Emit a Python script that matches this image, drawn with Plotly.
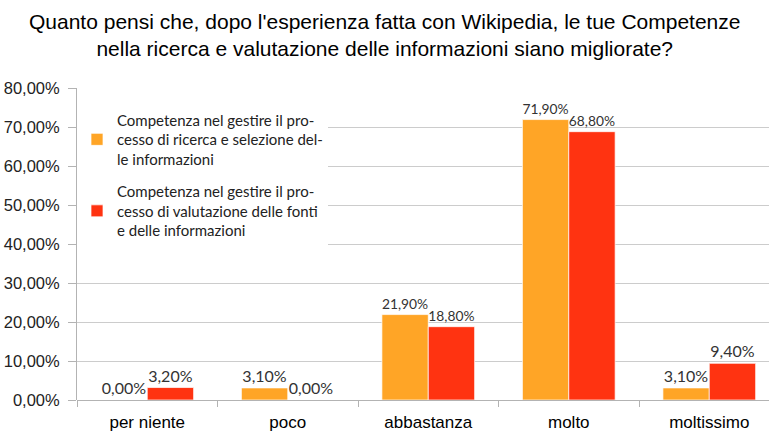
import plotly.graph_objects as go

categories = ["per niente", "poco", "abbastanza", "molto", "moltissimo"]
series1_name = "Competenza nel gestire il pro-<br>cesso di ricerca e selezione del-<br>le informazioni"
series2_name = "Competenza nel gestire il pro-<br>cesso di valutazione delle fonti<br>e delle informazioni"
series1 = [0.0, 3.1, 21.9, 71.9, 3.1]
series2 = [3.2, 0.0, 18.8, 68.8, 9.4]
title_text = ("Quanto pensi che, dopo l'esperienza fatta con Wikipedia, le tue Competenze<br>"
              "nella ricerca e valutazione delle informazioni siano migliorate?")

label_font = dict(family="Lato, Carlito, sans-serif", size=16, color="#333333")

fig = go.Figure()
fig.add_trace(go.Bar(
    x=categories, y=series1, name=series1_name, legendgroup="a",
    marker=dict(color="#FFA526", line=dict(color="rgba(255,255,255,0.7)", width=1)),
    text=[f"{v:.2f}%".replace(".", ",") for v in series1],
    textposition="outside", textfont=label_font, cliponaxis=False,
))
fig.add_trace(go.Bar(
    x=categories, y=series2, name=series2_name, legendgroup="b",
    marker=dict(color="#FF3311", line=dict(color="rgba(255,255,255,0.7)", width=1)),
    text=[f"{v:.2f}%".replace(".", ",") for v in series2],
    textposition="outside", textfont=label_font, cliponaxis=False,
))

fig.add_annotation(
    text=title_text, xref="paper", yref="paper", x=0.445, y=1.256,
    xanchor="center", yanchor="top", showarrow=False, align="center",
    font=dict(family="Liberation Sans, Arial, sans-serif", size=21, color="#000000"),
)

fig.update_layout(
    width=769, height=432,
    margin=dict(l=77, r=0, t=88, b=32, autoexpand=False),
    paper_bgcolor="white", plot_bgcolor="white",
    separators=",.",
    barmode="group", bargap=0.34, bargroupgap=0.0,
    legend=dict(
        x=0.0, y=0.95, xanchor="left", yanchor="top",
        bgcolor="white", borderwidth=0,
        font=dict(family="Lato, Carlito, sans-serif", size=15, color="#222222"),
        traceorder="grouped", tracegroupgap=10,
        itemwidth=30,
    ),
    xaxis=dict(
        range=[-0.5, 4.425],
        tickson="boundaries", ticks="outside", ticklen=6, tickcolor="#b3b3b3",
        showline=False, showgrid=False, ticklabelstandoff=10,
        tickfont=dict(family="Liberation Sans, Arial, sans-serif", size=17, color="#000000"),
    ),
    yaxis=dict(
        range=[0, 80], dtick=10, tickformat=".2f", ticksuffix="%",
        ticks="outside", ticklen=8, tickcolor="#b3b3b3", ticklabelstandoff=5,
        showline=True, linecolor="#b3b3b3", linewidth=1,
        showgrid=True, gridcolor="#cccccc", gridwidth=1,
        zeroline=True, zerolinecolor="#b3b3b3", zerolinewidth=1,
        tickfont=dict(family="Liberation Sans, Arial, sans-serif", size=16.5, color="#222222"),
    ),
)

fig.write_html("out.html", config={"displayModeBar": False},
               post_script="document.body.style.margin='0';")
